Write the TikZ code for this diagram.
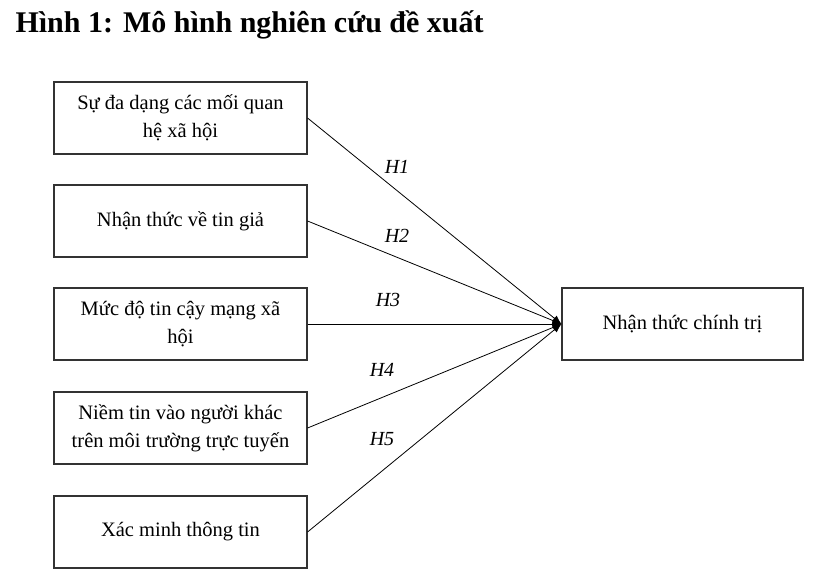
\documentclass[tikz,border=0pt]{standalone}
\usepackage{fontspec}
\setmainfont{Liberation Serif}
\usetikzlibrary{arrows.meta}
\begin{document}
\begin{tikzpicture}[x=1pt,y=-1pt,
  box/.style={draw=black!80,line width=1.1pt,rectangle,minimum width=253pt,minimum height=72pt,align=center,inner sep=0pt,font=\fontsize{20.5}{28}\selectfont},
  conn/.style={line width=0.8pt,-{Latex[length=9pt,width=7pt]}},
  hlab/.style={font=\fontsize{20}{22}\selectfont\itshape}]
\useasboundingbox (0,0) rectangle (823,587);
\node[anchor=base west,font=\fontsize{30}{34}\bfseries] (title) at (12,32) {Hình 1: Mô hình nghiên cứu đề xuất};
\node[box] (b1) at (180.5,118) {Sự đa dạng các mối quan\\hệ xã hội};
\node[box] (b2) at (180.5,221) {Nhận thức về tin giả};
\node[box] (b3) at (180.5,324) {Mức độ tin cậy mạng xã\\hội};
\node[box] (b4) at (180.5,428) {Niềm tin vào người khác\\trên môi trường trực tuyến};
\node[box] (b5) at (180.5,532) {Xác minh thông tin};
\node[box,minimum width=241pt,minimum height=72pt] (t) at (682.5,324) {Nhận thức chính trị};
\draw[conn] (b1.east) -- (t.west);
\draw[conn] (b2.east) -- (t.west);
\draw[conn] (b3.east) -- (t.west);
\draw[conn] (b4.east) -- (t.west);
\draw[conn] (b5.east) -- (t.west);
\node[hlab] (h1) at (397,167) {H1};
\node[hlab] (h2) at (397,236) {H2};
\node[hlab] (h3) at (388,300) {H3};
\node[hlab] (h4) at (382,370) {H4};
\node[hlab] (h5) at (382,439) {H5};
\end{tikzpicture}
\end{document}
